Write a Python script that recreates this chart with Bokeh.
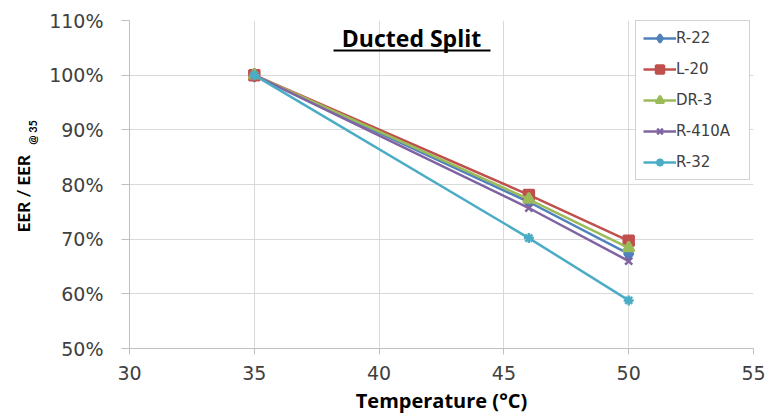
from bokeh.plotting import figure
from bokeh.layouts import row
from bokeh.models import (Range1d, FixedTicker, PrintfTickFormatter, Label,
                          BoxAnnotation, Legend)
from bokeh.embed import file_html
from bokeh.resources import INLINE
import math

temps = [35, 46, 50]
r22 = [100, 76.8, 67.3]
l20 = [100, 78.1, 69.7]
dr3 = [100, 77.3, 68.4]
r410a = [100, 75.7, 66.0]
r32 = [100, 70.2, 58.8]

series = [
    ("R-22", r22, "#4f81bd", "diamond", 13),
    ("L-20", l20, "#c0504d", "square", 10),
    ("DR-3", dr3, "#9bbb59", "triangle", 11),
    ("R-410A", r410a, "#8064a2", "x", 10),
    ("R-32", r32, "#4bacc6", "asterisk", 10),
]
x_ticks = [30, 35, 40, 45, 50, 55]
y_ticks = [50, 60, 70, 80, 90, 100, 110]

H = 416
LW = 42            # width of the left strip holding the y-axis title
FL, FT, FB = 129, 20, 350  # frame left / top / bottom in canvas px

# left strip with the rotated y-axis title; its frame is aligned with the
# main frame by the row layout, so map the range to canvas pixels (y up)
side = figure(width=LW, height=H, output_backend="svg", toolbar_location=None,
              x_range=Range1d(0, LW), y_range=Range1d(H - FB, H - FT),
              min_border=0, border_fill_color="white",
              background_fill_color="white")
side.axis.visible = False
side.grid.visible = False
side.outline_line_color = None
side.add_layout(Label(x=33, y=H - 233, text="EER / EER", angle=math.pi / 2,
                      text_font="Lato", text_font_style="bold",
                      text_font_size="17px", text_color="black",
                      text_baseline="bottom"))
side.add_layout(Label(x=38, y=H - 145, text="@ 35", angle=math.pi / 2,
                      text_font="Lato", text_font_style="bold",
                      text_font_size="11px", text_color="black",
                      text_baseline="bottom"))

p = figure(width=775 - LW, height=H, output_backend="svg", toolbar_location=None,
           x_range=Range1d(30, 55), y_range=Range1d(50, 110),
           min_border_left=FL - LW, min_border_right=22, min_border_top=FT,
           min_border_bottom=H - FB, background_fill_color="white",
           border_fill_color="white")
p.outline_line_color = None

items = []
for name, vals, col, mk, sz in series:
    ln = p.line(temps, vals, line_color=col, line_width=2.5)
    sc = p.scatter(temps, vals, marker=mk, size=sz, fill_color=col,
                   line_color=col, line_width=2.5)
    items.append((name, [ln, sc]))

leg = Legend(items=items, location=(635 - FL, FB - 182))
leg.border_line_color = "#a6a6a6"
leg.border_line_width = 1
leg.background_fill_alpha = 1
leg.label_text_font = "DejaVu Sans"
leg.label_text_font_size = "15px"
leg.label_text_color = "#404040"
leg.glyph_width = 33
leg.glyph_height = 20
leg.label_height = 20
leg.label_width = 66
leg.label_standoff = 0
leg.spacing = 11
leg.padding = 7
leg.margin = 0
p.add_layout(leg)

for ax in (p.xaxis[0], p.yaxis[0]):
    ax.axis_line_color = "#bfbfbf"
    ax.major_tick_line_color = "#bfbfbf"
    ax.minor_tick_line_color = None
    ax.major_tick_in = 0
    ax.major_label_text_font = "DejaVu Sans"
    ax.major_label_text_font_size = "19px"
    ax.major_label_text_color = "#404040"

p.xaxis.major_tick_out = 6
p.yaxis.major_tick_out = 8
p.xaxis.ticker = FixedTicker(ticks=x_ticks)
p.yaxis.ticker = FixedTicker(ticks=y_ticks)
p.yaxis.formatter = PrintfTickFormatter(format="%d%%")
p.xaxis.major_label_standoff = 11
p.yaxis.major_label_standoff = 18

p.xaxis.axis_label = "Temperature (°C)"
p.xaxis.axis_label_text_font = "Open Sans"
p.xaxis.axis_label_text_font_style = "bold"
p.xaxis.axis_label_text_font_size = "20px"
p.xaxis.axis_label_text_color = "black"
p.xaxis.axis_label_standoff = 4

p.xgrid.grid_line_color = "#d9d9d9"
p.ygrid.grid_line_color = "#d9d9d9"
p.xgrid.ticker = FixedTicker(ticks=x_ticks)
p.ygrid.ticker = FixedTicker(ticks=y_ticks)

# title with underline (screen units relative to the frame)
p.add_layout(Label(x=411 - FL, y=FB - 39, x_units="screen", y_units="screen",
                   text="Ducted Split", text_font="Open Sans", text_font_style="bold",
                   text_font_size="23px", text_color="black", text_align="center",
                   text_baseline="alphabetic"))
p.add_layout(BoxAnnotation(left=333 - FL, right=490 - FL, top=FB - 51, bottom=FB - 53,
                           left_units="screen", right_units="screen",
                           top_units="screen", bottom_units="screen",
                           fill_color="black", fill_alpha=1, line_color=None))

layout = row(side, p, spacing=0)
open("out.html", "w").write(file_html(layout, INLINE))
